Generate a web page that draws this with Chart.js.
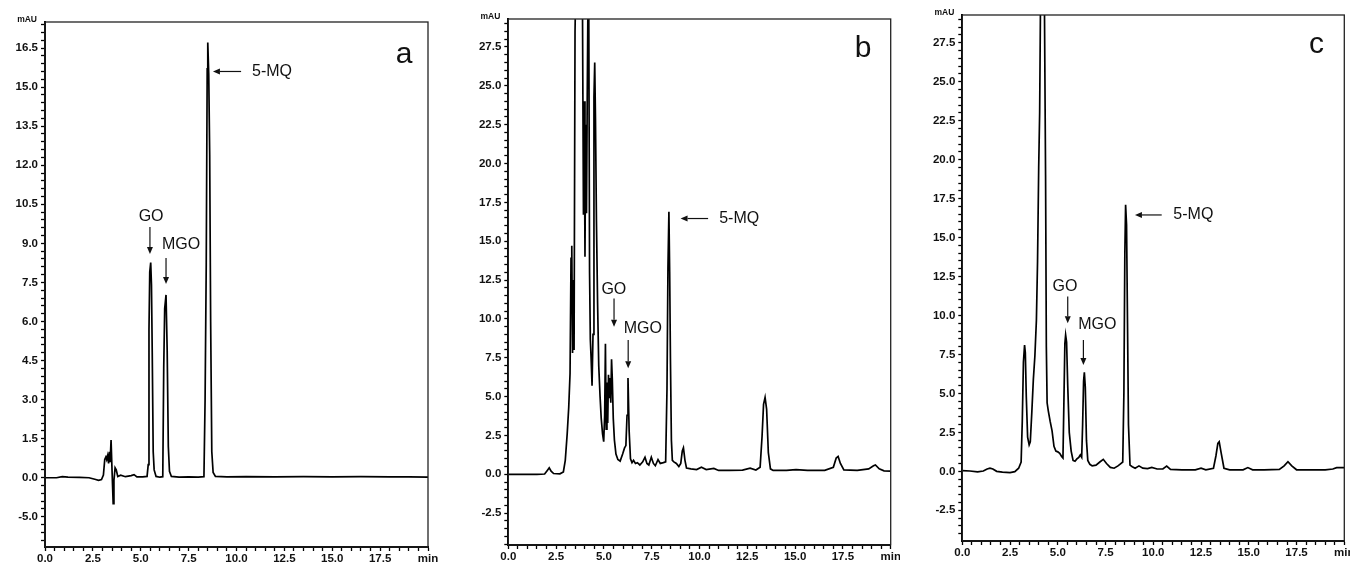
<!DOCTYPE html>
<html><head><meta charset="utf-8">
<script src="https://cdn.jsdelivr.net/npm/chart.js@4.4.0/dist/chart.umd.min.js"></script>
<style>
html,body{margin:0;padding:0;background:#fff;}
body{width:1350px;height:563px;position:relative;overflow:hidden;}
canvas{position:absolute;top:0;}
</style></head><body>
<canvas id="ca" width="440" height="563" style="left:0px"></canvas>
<canvas id="cb" width="450" height="563" style="left:450px"></canvas>
<canvas id="cc" width="450" height="563" style="left:900px"></canvas>
<script>
// ---------- Panel a: retention time (min) and absorbance (mAU) ----------
const timeA = [
  0, 0.6, 0.9, 1.2, 1.8, 2.3, 2.6, 2.8, 2.95, 3.05,
  3.12, 3.18, 3.22, 3.27, 3.32, 3.36, 3.4, 3.45, 3.5, 3.56,
  3.6, 3.66, 3.72, 3.8, 3.95, 4.2, 4.5, 4.65, 4.8, 5.1,
  5.33, 5.39, 5.43, 5.47, 5.52, 5.56, 5.6, 5.65, 5.7, 5.8,
  6.0, 6.15, 6.2, 6.25, 6.32, 6.38, 6.44, 6.5, 6.6, 7.0,
  7.5, 8.0, 8.3, 8.36, 8.42, 8.47, 8.5, 8.55, 8.6, 8.65,
  8.71, 8.78, 8.9, 9.5, 10.5, 12, 13.5, 15, 16.5, 18,
  19, 20
];
const signalA = [
  0, 0, 0.04, 0.02, 0.01, 0, -0.06, -0.1, -0.07, 0.1,
  0.7, 0.8, 0.7, 0.85, 0.55, 1.0, 0.6, 1.45, 0.3, -1.0,
  -0.1, 0.38, 0.3, 0.05, 0.1, 0.04, 0.08, 0.12, 0.03, 0.03,
  0.05, 0.5, 5.7, 7.9, 8.26, 7.4, 4.8, 1.0, 0.3, 0.05,
  0.02, 0.04, 4.2, 6.5, 7.02, 4.9, 1.2, 0.25, 0.05, 0.02,
  0.03, 0.02, 0.04, 3.0, 8.2, 15.7, 16.71, 15.5, 12.4, 6.0,
  1.0, 0.2, 0.05, 0.03, 0.04, 0.03, 0.04, 0.03, 0.04, 0.03,
  0.03, 0.02
];

// ---------- Panel b ----------
const timeB = [
  0, 0.5, 1.0, 1.5, 1.9, 2.04, 2.14, 2.24, 2.37, 2.7,
  2.88, 2.98, 3.08, 3.16, 3.23, 3.28, 3.32, 3.36, 3.4, 3.44,
  3.49, 3.55, 3.73, 3.88, 3.93, 3.97, 4.01, 4.05, 4.09, 4.13,
  4.17, 4.21, 4.25, 4.29, 4.33, 4.38, 4.43, 4.48, 4.52, 4.56,
  4.61, 4.67, 4.73, 4.8, 4.86, 4.93, 4.99, 5.04, 5.08, 5.12,
  5.16, 5.2, 5.24, 5.28, 5.32, 5.36, 5.4, 5.44, 5.49, 5.55,
  5.63, 5.73, 5.85, 5.98, 6.08, 6.15, 6.21, 6.26, 6.32, 6.39,
  6.47, 6.55, 6.65, 6.75, 6.88, 7.03, 7.15, 7.25, 7.35, 7.48,
  7.59, 7.69, 7.83, 7.95, 8.11, 8.23, 8.3, 8.35, 8.4, 8.44,
  8.48, 8.53, 8.58, 8.66, 8.79, 8.92, 9.02, 9.1, 9.16, 9.24,
  9.32, 9.55, 9.85, 10.1, 10.35, 10.75, 11.0, 11.55, 12.25, 12.65,
  12.95, 13.17, 13.27, 13.35, 13.43, 13.51, 13.6, 13.71, 13.85, 14.55,
  15.05, 15.65, 16.55, 17.0, 17.15, 17.25, 17.37, 17.55, 18.25, 18.85,
  19.1, 19.2, 19.4, 19.65, 20
];
const signalB = [
  0, 0, 0, 0, 0.02, 0.25, 0.42, 0.2, 0.05, 0.03,
  0.15, 0.9, 2.6, 4.3, 6.5, 13.9, 14.7, 7.8, 12.5, 8.0,
  28.5, 33, 36, 30, 16.7, 24.0, 14.0, 22.5, 16.8, 24.5,
  31, 29.5, 13.0, 8.7, 7.5, 5.7, 9.0, 24.3, 26.5, 22.8,
  16.3, 11.0, 7.0, 5.0, 3.6, 2.6, 2.1, 3.8, 8.4, 2.9,
  5.9, 3.3, 6.4, 4.9, 6.2, 4.6, 7.4, 6.1, 3.6, 2.2,
  1.3, 0.95, 0.85, 1.3, 1.7, 1.85, 3.8, 6.2, 2.8, 1.0,
  0.75, 0.9, 0.7, 0.75, 0.6, 0.8, 1.1, 0.7, 0.6, 1.1,
  0.7, 0.55, 0.95, 0.7, 0.75, 0.8, 5.5, 13.3, 16.9, 13.0,
  7.4, 2.2, 0.9, 0.8, 0.7, 0.5, 0.7, 1.5, 1.7, 0.9,
  0.4, 0.35, 0.3, 0.45, 0.3, 0.38, 0.25, 0.25, 0.27, 0.4,
  0.28, 0.45, 2.4, 4.5, 4.95, 4.2, 1.4, 0.35, 0.25, 0.25,
  0.3, 0.25, 0.25, 0.45, 1.05, 1.15, 0.7, 0.28, 0.25, 0.35,
  0.55, 0.6, 0.35, 0.22, 0.2
];

// ---------- Panel c ----------
const timeC = [
  0, 0.4, 0.8, 1.1, 1.3, 1.45, 1.6, 1.8, 2.1, 2.5,
  2.75, 2.95, 3.08, 3.14, 3.2, 3.26, 3.3, 3.35, 3.42, 3.5,
  3.56, 3.64, 3.72, 3.8, 3.88, 3.94, 4.0, 4.05, 4.1, 4.2,
  4.3, 4.36, 4.4, 4.44, 4.5, 4.6, 4.7, 4.8, 4.9, 5.0,
  5.1, 5.2, 5.27, 5.32, 5.37, 5.41, 5.46, 5.52, 5.6, 5.7,
  5.8, 5.9, 6.0, 6.1, 6.18, 6.25, 6.3, 6.35, 6.39, 6.44,
  6.5, 6.57, 6.68, 6.8, 7.0, 7.2, 7.38, 7.55, 7.75, 7.95,
  8.15, 8.3, 8.4, 8.46, 8.51, 8.55, 8.6, 8.65, 8.7, 8.78,
  8.9, 9.05, 9.25, 9.45, 9.7, 9.92, 10.2, 10.5, 10.7, 10.9,
  11.5, 12.2, 12.5, 12.75, 13.15, 13.28, 13.38, 13.45, 13.55, 13.7,
  14.0, 14.7, 14.95, 15.2, 15.8, 16.6, 16.85, 17.05, 17.25, 17.5,
  18.2, 19.0, 19.4, 19.6, 20
];
const signalC = [
  0.05, 0.02, -0.04, 0.02, 0.15, 0.2, 0.15, 0.0, -0.05, -0.08,
  -0.02, 0.2, 0.6, 3.2, 7.0, 8.1, 7.6, 4.8, 2.2, 1.7,
  1.9, 3.8, 5.9, 7.4, 9.7, 13.5, 19.5, 23.0, 31, 34,
  30, 19.0, 8.0, 4.4, 3.9, 3.2, 2.6, 1.6, 1.3, 1.25,
  1.15, 0.95, 0.85, 4.5, 8.2, 8.75, 8.3, 5.5, 2.5, 1.3,
  0.7, 0.65, 0.8, 0.9, 1.05, 0.9, 3.0, 5.8, 6.35, 5.4,
  2.0, 0.7, 0.45, 0.35, 0.4, 0.6, 0.77, 0.5, 0.25, 0.2,
  0.35, 0.5, 0.6, 5.0, 14.0, 17.1, 15.8, 9.5, 3.0, 0.4,
  0.3, 0.2, 0.35, 0.2, 0.18, 0.25, 0.15, 0.15, 0.34, 0.12,
  0.1, 0.1, 0.2, 0.1, 0.2, 1.0, 1.8, 1.9, 1.2, 0.2,
  0.1, 0.1, 0.24, 0.1, 0.1, 0.12, 0.35, 0.62, 0.35, 0.1,
  0.1, 0.1, 0.15, 0.24, 0.24
];

// ---------- Tick labels ----------
const xTickValues = [0, 2.5, 5, 7.5, 10, 12.5, 15, 17.5, 20];
const xTickLabels = ['0.0', '2.5', '5.0', '7.5', '10.0', '12.5', '15.0', '17.5', 'min'];
const yTickValuesA = [-1.5, 0, 1.5, 3, 4.5, 6, 7.5, 9, 10.5, 12, 13.5, 15, 16.5];
const yTickLabelsA = ['-5.0', '0.0', '1.5', '3.0', '4.5', '6.0', '7.5', '9.0', '10.5', '12.0', '13.5', '15.0', '16.5'];
const yTickValuesBC = [-2.5, 0, 2.5, 5, 7.5, 10, 12.5, 15, 17.5, 20, 22.5, 25, 27.5];
const yTickLabelsBC = ['-2.5', '0.0', '2.5', '5.0', '7.5', '10.0', '12.5', '15.0', '17.5', '20.0', '22.5', '25.0', '27.5'];
const yUnit = 'mAU';

// ---------- Annotations (text, time, mAU) ----------
const panelLetters = ['a', 'b', 'c'];
const compoundNames = ['GO', 'MGO', '5-MQ'];
// label anchor [time, mAU] per compound
const labelPosA = [[5.54, 10.02], [6.11, 8.94], [10.81, 15.6]];
const labelPosB = [[5.52, 11.9], [6.04, 9.39], [11.03, 16.46]];
const labelPosC = [[5.38, 11.85], [6.07, 9.39], [11.05, 16.45]];
// arrows [t1, v1, t2(tip), v2(tip)] per compound
const arrowsA = [[5.48, 9.63, 5.48, 8.59], [6.32, 8.44, 6.32, 7.44], [10.24, 15.6, 8.77, 15.6]];
const arrowsB = [[5.53, 11.32, 5.53, 9.49], [6.27, 8.64, 6.27, 6.82], [10.45, 16.46, 9.01, 16.46]];
const arrowsC = [[5.52, 11.21, 5.52, 9.5], [6.34, 8.43, 6.34, 6.82], [10.44, 16.45, 9.04, 16.45]];
const letterPos = [[18.75, 15.93], [18.56, 26.86], [18.55, 26.83]];

function labelLookup(values, labels) {
  return function (v) {
    for (let i = 0; i < values.length; i++) {
      if (Math.abs(values[i] - v) < 1e-6) return labels[i];
    }
    return '';
  };
}

const tickFont = { family: "'Liberation Sans', Arial, sans-serif", size: 11.5, weight: 'bold' };

const framePlugin = {
  id: 'frame',
  afterDatasetsDraw(chart) {
    const { ctx, chartArea: a } = chart;
    ctx.save();
    ctx.strokeStyle = '#222';
    ctx.lineWidth = 1.3;
    ctx.strokeRect(a.left, a.top, a.right - a.left, a.bottom - a.top);
    ctx.restore();
  }
};

const notesPlugin = {
  id: 'notes',
  afterDraw(chart, args, o) {
    const { ctx, chartArea: a } = chart;
    const xs = chart.scales.x, ys = chart.scales.y;
    ctx.save();
    ctx.fillStyle = '#111';
    ctx.font = "bold 8.5px 'Liberation Sans', Arial, sans-serif";
    ctx.textAlign = 'right';
    ctx.textBaseline = 'middle';
    ctx.fillText(yUnit, a.left - 8, a.top - 2);
    ctx.font = "30px 'Liberation Sans', Arial, sans-serif";
    ctx.textAlign = 'center';
    ctx.textBaseline = 'alphabetic';
    ctx.fillText(o.letter, xs.getPixelForValue(o.letterAt[0]), ys.getPixelForValue(o.letterAt[1]));
    ctx.font = "16px 'Liberation Sans', Arial, sans-serif";
    ctx.textBaseline = 'middle';
    o.labels.forEach((p, i) => {
      ctx.textAlign = i === 0 ? 'center' : 'left';
      ctx.fillText(compoundNames[i], xs.getPixelForValue(p[0]), ys.getPixelForValue(p[1]));
    });
    ctx.strokeStyle = '#111';
    ctx.lineWidth = 1.2;
    o.arrows.forEach(ar => {
      const x1 = xs.getPixelForValue(ar[0]), y1 = ys.getPixelForValue(ar[1]);
      const x2 = xs.getPixelForValue(ar[2]), y2 = ys.getPixelForValue(ar[3]);
      const ang = Math.atan2(y2 - y1, x2 - x1);
      const L = 7, W = 3;
      const bx = x2 - L * Math.cos(ang), by = y2 - L * Math.sin(ang);
      ctx.beginPath(); ctx.moveTo(x1, y1); ctx.lineTo(bx, by); ctx.stroke();
      ctx.beginPath();
      ctx.moveTo(x2, y2);
      ctx.lineTo(bx + W * Math.sin(ang), by - W * Math.cos(ang));
      ctx.lineTo(bx - W * Math.sin(ang), by + W * Math.cos(ang));
      ctx.closePath(); ctx.fill();
    });
    ctx.restore();
  }
};

function makeChart(id, times, signal, cfg) {
  const pts = times.map((t, i) => ({ x: t, y: signal[i] }));
  return new Chart(document.getElementById(id), {
    type: 'line',
    data: { datasets: [{ data: pts, borderColor: '#000', borderWidth: 1.7, pointRadius: 0, tension: 0, fill: false }] },
    options: {
      responsive: false, animation: false, devicePixelRatio: 1,
      events: [],
      layout: { padding: { top: cfg.padTop, right: cfg.padRight, left: 0, bottom: 0 } },
      plugins: {
        legend: { display: false }, tooltip: { enabled: false },
        notes: { letter: cfg.letter, letterAt: cfg.letterAt, labels: cfg.labels, arrows: cfg.arrows }
      },
      scales: {
        x: {
          type: 'linear', min: 0, max: 20,
          grid: { drawOnChartArea: false, drawTicks: true, tickLength: 4, tickColor: '#000', tickWidth: 1.3 },
          border: { display: true, color: '#000', width: 2 },
          ticks: { stepSize: 0.5, autoSkip: false, maxRotation: 0, padding: 1, color: '#111', font: tickFont,
                   callback: labelLookup(xTickValues, xTickLabels) },
          afterFit(s) { s.height = cfg.xHeight; s.paddingLeft = 0; s.paddingRight = 0; }
        },
        y: {
          type: 'linear', min: cfg.yMin, max: cfg.yMax,
          grid: { drawOnChartArea: false, drawTicks: true, tickLength: 4, tickColor: '#000', tickWidth: 1.3 },
          border: { display: true, color: '#000', width: 2 },
          ticks: { stepSize: cfg.yStep, autoSkip: false, includeBounds: false, padding: 3, color: '#111', font: tickFont,
                   callback: labelLookup(cfg.yVals, cfg.yLabels) },
          afterFit(s) { s.width = cfg.yWidth; s.paddingTop = 0; s.paddingBottom = 0; }
        }
      }
    },
    plugins: [framePlugin, notesPlugin]
  });
}

makeChart('ca', timeA, signalA, {
  padTop: 22, padRight: 12, xHeight: 16, yWidth: 45,
  yMin: -2.66, yMax: 17.5, yStep: 0.3, yVals: yTickValuesA, yLabels: yTickLabelsA,
  letter: panelLetters[0], letterAt: letterPos[0], labels: labelPosA, arrows: arrowsA
});
makeChart('cb', timeB, signalB, {
  padTop: 19, padRight: 9.3, xHeight: 18, yWidth: 58.3,
  yMin: -4.55, yMax: 29.3, yStep: 0.5, yVals: yTickValuesBC, yLabels: yTickLabelsBC,
  letter: panelLetters[1], letterAt: letterPos[1], labels: labelPosB, arrows: arrowsB
});
makeChart('cc', timeC, signalC, {
  padTop: 15, padRight: 5.7, xHeight: 22, yWidth: 62.3,
  yMin: -4.47, yMax: 29.28, yStep: 0.5, yVals: yTickValuesBC, yLabels: yTickLabelsBC,
  letter: panelLetters[2], letterAt: letterPos[2], labels: labelPosC, arrows: arrowsC
});
</script>
</body></html>
